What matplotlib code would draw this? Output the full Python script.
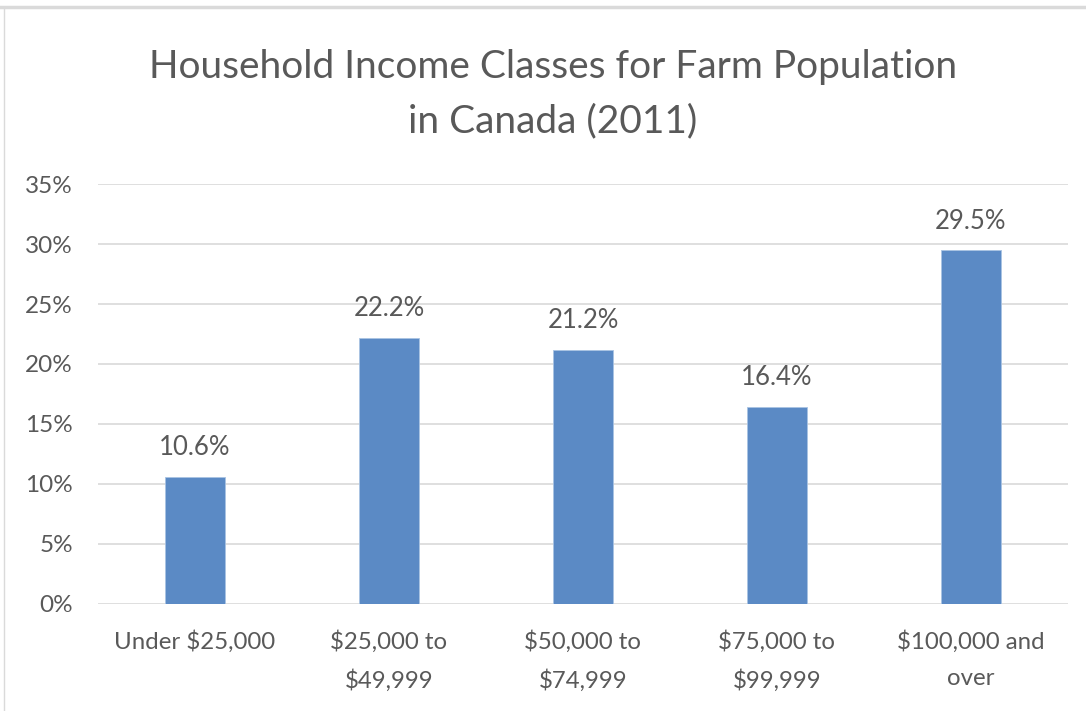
import matplotlib
matplotlib.use("Agg")
import matplotlib.pyplot as plt
from matplotlib.lines import Line2D
from matplotlib.ticker import FuncFormatter, MultipleLocator

categories = ["Under $25,000", "$25,000 to\n$49,999", "$50,000 to\n$74,999",
              "$75,000 to\n$99,999", "$100,000 and\nover"]
values = [10.6, 22.2, 21.2, 16.4, 29.5]
title = "Household Income Classes for Farm Population\nin Canada (2011)"

plt.rcParams['font.family'] = ['Lato', 'DejaVu Sans']
txt = '#595959'

fig = plt.figure(figsize=(10.86, 7.11), dpi=100)
ax = fig.add_axes([98/1086, 1-603.5/711, 970/1086, (603.5-184.3)/711])

x = list(range(len(categories)))
ax.bar(x, values, width=0.314, color='#5B8AC5', edgecolor='#A9C3E3', linewidth=0.6, zorder=3)
ax.set_xlim(-0.5, len(categories)-0.5)
ax.set_ylim(0, 35)
ax.yaxis.set_major_locator(MultipleLocator(5))
ax.yaxis.set_major_formatter(FuncFormatter(lambda v, p: f"{v:.0f}%"))
ax.grid(axis='y', color='#D9D9D9', linewidth=1.2, zorder=0)
for s in ax.spines.values():
    s.set_visible(False)
ax.tick_params(axis='both', length=0, colors=txt)
ax.tick_params(axis='y', pad=18, labelsize=17.5)
ax.tick_params(axis='x', pad=19, labelsize=17.3)
ax.set_xticks(x)
ax.set_xticklabels(categories, linespacing=1.9)

for xi, v in zip(x, values):
    ax.annotate(f"{v}%", (xi, v), xytext=(0, 12), textcoords='offset points',
                ha='center', va='bottom', fontsize=18.5, color=txt)

fig.text(553/1086, 1-94/711, title, ha='center', va='center', fontsize=28, color=txt,
         linespacing=1.62)

# frame
fig.add_artist(Line2D([0, 1], [1-7/711, 1-7/711], color='#DADADA', linewidth=2.5,
                      transform=fig.transFigure))
fig.add_artist(Line2D([4/1086, 4/1086], [0, 1-7/711], color='#DADADA', linewidth=1,
                      transform=fig.transFigure))

fig.savefig("out.png", dpi=100)
